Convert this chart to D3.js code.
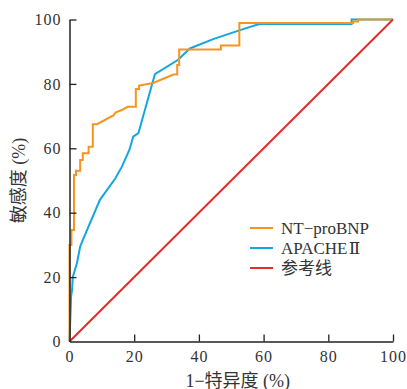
<!DOCTYPE html>
<html>
<head>
<meta charset="utf-8">
<script src="https://cdn.jsdelivr.net/npm/d3@7"></script>
<style>
  body { margin: 0; background: #fff; }
  svg text { font-family: "Liberation Serif", "DejaVu Serif", "Noto Sans CJK SC", serif; fill: #333; }
</style>
</head>
<body>
<div id="chart"></div>
<script>
// ROC curves, values in percent
var ntProBNP = [
  [0, 0], [0, 30], [0.6, 30], [0.6, 34.6], [1.4, 34.6], [1.4, 51.7], [2.0, 51.7], [2.0, 53],
  [3.3, 53], [3.3, 56.4], [4.1, 56.4], [4.1, 58.5], [5.9, 58.5], [5.9, 60.5], [7.2, 60.5],
  [7.2, 67.5], [8.5, 67.5], [13.7, 70.3], [14.2, 71.1], [16.2, 71.9], [18, 72.9], [20.5, 72.9],
  [20.5, 78.4], [21.5, 78.4], [21.5, 79.5], [25.9, 80.3], [32.1, 82.9], [33.3, 82.9],
  [33.3, 85.9], [33.9, 85.9], [33.9, 90.7], [46.8, 90.7], [46.8, 91.9], [52.5, 91.9],
  [52.5, 98.9], [87.7, 98.9], [87.7, 99.4], [89.2, 99.4], [89.2, 100], [100, 100]
];
var apache = [
  [0, 0], [0.5, 14], [0.8, 16], [1, 20], [2.3, 24.3], [3.3, 29.5], [4.1, 31.5], [9.4, 44],
  [14.2, 50.7], [16.2, 54.3], [18.5, 59.5], [19.7, 63.6], [21.3, 64.7], [26.4, 83],
  [33.6, 87.5], [37.2, 91], [44.4, 93.9], [52.7, 96.7], [58.4, 98.5], [59.5, 98.6],
  [87.2, 98.6], [87.2, 100], [100, 100]
];
var reference = [[0, 0], [100, 100]];

var ticks = [0, 20, 40, 60, 80, 100];
var seriesNames = ["NT\u2212proBNP", "APACHE\u200a\u2161", "参考线"];
var colors = ["#f7941d", "#15a6e0", "#e62b2b"];

var margin = {top: 19.5, right: 14, bottom: 47.5, left: 69.5},
    width = 407 - margin.left - margin.right,
    height = 389 - margin.top - margin.bottom;

var x = d3.scaleLinear().domain([0, 100]).range([0, width]);
var y = d3.scaleLinear().domain([0, 100]).range([height, 0]);

var svg = d3.select("#chart").append("svg")
    .attr("width", 407)
    .attr("height", 389)
  .append("g")
    .attr("transform", "translate(" + margin.left + "," + margin.top + ")");

var line = d3.line()
    .x(function(d) { return x(d[0]); })
    .y(function(d) { return y(d[1]); });

// curves
[apache, ntProBNP, reference].forEach(function(data, i) {
  var c = [colors[1], colors[0], colors[2]][i];
  svg.append("path")
      .datum(data)
      .attr("fill", "none")
      .attr("stroke", c)
      .attr("stroke-width", 2)
      .attr("stroke-linejoin", "miter")
      .attr("d", line);
});

// axes, ticks pointing inward
var xAxis = svg.append("g")
    .attr("transform", "translate(0," + height + ")")
    .call(d3.axisBottom(x).tickValues(ticks).tickSize(-7).tickPadding(9).tickSizeOuter(0));
var yAxis = svg.append("g")
    .call(d3.axisLeft(y).tickValues(ticks).tickSize(-7).tickPadding(8).tickSizeOuter(0));

[xAxis, yAxis].forEach(function(a) {
  a.select(".domain").attr("stroke", "#222").attr("stroke-width", 1.5);
  a.selectAll(".tick line").attr("stroke", "#222").attr("stroke-width", 1.3);
  a.selectAll(".tick text")
      .attr("font-size", 16)
      .attr("letter-spacing", 1)
      .attr("font-family", "Liberation Serif")
      .attr("fill", "#333");
});
xAxis.selectAll(".tick").filter(function(d) { return d === 0; }).select("line").remove();
yAxis.selectAll(".tick").filter(function(d) { return d === 0; }).select("line").remove();

// axis titles
svg.append("text")
    .attr("x", x(52))
    .attr("y", height + 45)
    .attr("text-anchor", "middle")
    .attr("font-size", 18)
    .text("1\u2212特异度 (%)");

svg.append("text")
    .attr("transform", "translate(" + (-45) + "," + (height / 2) + ") rotate(-90)")
    .attr("text-anchor", "middle")
    .attr("font-size", 18)
    .text("敏感度 (%)");

// legend
var legend = svg.append("g")
    .attr("transform", "translate(" + (250 - margin.left) + "," + (228 - margin.top) + ")");

seriesNames.forEach(function(name, i) {
  var row = legend.append("g").attr("transform", "translate(0," + (i * 20) + ")");
  row.append("line")
      .attr("x1", 0).attr("x2", 23)
      .attr("stroke", colors[i])
      .attr("stroke-width", 2);
  row.append("text")
      .attr("x", 31)
      .attr("y", 5.5)
      .attr("font-size", 17)
      .text(name);
});
</script>
</body>
</html>
